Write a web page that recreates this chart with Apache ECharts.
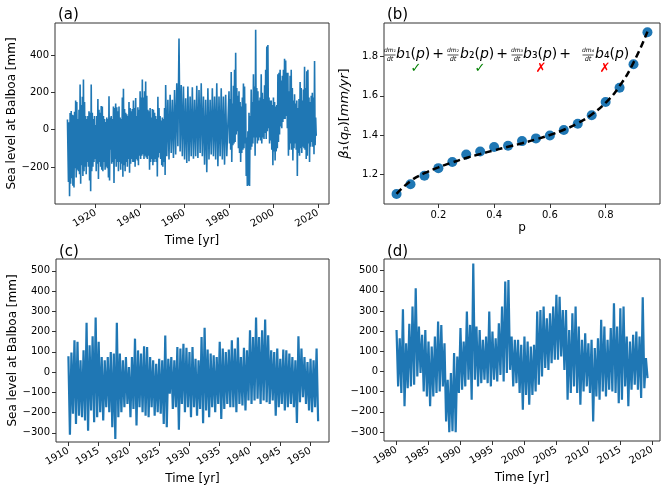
<!DOCTYPE html>
<html>
<head>
<meta charset="utf-8">
<script src="https://cdn.jsdelivr.net/npm/echarts@6/dist/echarts.min.js"></script>
<style>
  html, body { margin: 0; padding: 0; background: #fff; }
  #chart { width: 664px; height: 491px; }
</style>
</head>
<body>
<div id="chart"></div>
<script>
// 1907-1910, half-year steps: upper / lower swing
const earlyStart = 1907.5;
const earlyHigh = [60, 40, 90, 100, 80];
const earlyLow = [-280, -356, -290, -260, -300];

// 1910-1951 (panel c), half-year steps
const cStart = 1910;
const cHigh = [78, 96, 157, 149, 58, 107, 243, 132, 177, 269, 149, 74, 58, 74, 99, 91, 243, 91, 58, 74,
  25, 74, 165, 107, 91, 127, 124, 74, 58, 41, 66, 58, 180, 66, 74, 58, 124, 116, 140, 120,
  99, 124, 66, 58, 173, 219, 111, 91, 83, 74, 149, 116, 99, 111, 157, 116, 170, 74, 120, 107,
  206, 173, 269, 173, 206, 259, 182, 107, 99, 116, 66, 111, 107, 91, 74, 58, 177, 116, 74, 50,
  66, 58, 116];
const cLow = [-309, -206, -256, -215, -223, -239, -289, -190, -248, -223, -198, -239, -173, -198, -272, -330, -223, -198, -173, -157,
  -223, -182, -264, -173, -198, -215, -223, -173, -215, -198, -206, -256, -272, -107, -182, -173, -285, -157, -198, -173,
  -223, -173, -215, -182, -252, -190, -223, -173, -198, -157, -231, -182, -157, -173, -173, -198, -157, -165, -190, -140,
  -157, -140, -132, -157, -140, -149, -157, -140, -215, -173, -157, -190, -173, -157, -173, -251, -149, -124, -157, -190,
  -198, -173, -243];

// 1951-1980 (only in panel a), yearly steps
const midStart = 1951.5;
const midHigh = [240, 160, 187, 160, 213, 249, 489, 240, 231, 169, 231, 178, 228, 160, 235, 213, 249, 178, 160, 222,
  160, 222, 178, 249, 178, 222, 178, 187];
const midLow = [-142, -160, -124, -151, -133, -89, -116, -142, -160, -178, -169, -142, -156, -142, -151, -124, -142, -187, -228, -160,
  -133, -142, -160, -196, -142, -160, -187, -142];

// 1980-2019 (panel d), half-year steps
const dStart = 1980;
const dHigh = [206, 165, 309, 140, 236, 322, 413, 223, 182, 206, 149, 124, 173, 248, 231, 140, -41, -8, 91, 74,
  215, 149, 297, 231, 536, 223, 206, 157, 173, 297, 198, 165, 239, 322, 446, 454, 173, 157, 157, 132,
  173, 149, 124, 132, 297, 305, 322, 264, 289, 322, 380, 371, 305, 305, 206, 289, 322, 223, 157, 190,
  140, 157, 116, 165, 256, 223, 157, 215, 338, 223, 314, 322, 173, 149, 182, 198, 173, 368, 66];
const dLow = [-74, -107, -173, -83, -74, -66, -25, -8, -99, -124, -173, -124, -107, -99, -74, -248, -302, -297, -302, -107,
  -91, -74, -41, -140, -41, -74, -58, -41, -58, -74, -41, -50, -17, -50, -8, 8, -74, -58, -107, -190,
  -116, -165, -116, -99, -66, -25, 17, 8, 41, 58, 58, 74, 8, -140, -107, -74, -107, -165, -99, -74,
  -107, -248, -124, -140, -99, -124, -91, -99, -107, -157, -140, -74, -173, -91, -66, -91, -132, -83, -33];

// panel b
const pValues = [0.05, 0.10, 0.15, 0.20, 0.25, 0.30, 0.35, 0.40, 0.45, 0.50, 0.55, 0.60, 0.65, 0.70, 0.75, 0.80, 0.85, 0.90, 0.95];
const betaPoints = [1.099, 1.149, 1.192, 1.231, 1.262, 1.301, 1.316, 1.339, 1.345, 1.369, 1.383, 1.398, 1.426, 1.458, 1.501, 1.569, 1.641, 1.761, 1.925];
const betaFit = [1.100, 1.165, 1.205, 1.235, 1.260, 1.283, 1.303, 1.322, 1.340, 1.358, 1.378, 1.400, 1.427, 1.460, 1.505, 1.565, 1.650, 1.770, 1.928];

// tick labels
const ticksA = [1920, 1940, 1960, 1980, 2000, 2020];
const ticksC = [1910, 1915, 1920, 1925, 1930, 1935, 1940, 1945, 1950];
const ticksD = [1980, 1985, 1990, 1995, 2000, 2005, 2010, 2015, 2020];
const yTicksA = [-200, 0, 200, 400];
const yTicksCD = [-300, -200, -100, 0, 100, 200, 300, 400, 500];
const pTicks = [0.2, 0.4, 0.6, 0.8];
const betaTicks = [1.2, 1.4, 1.6, 1.8];

// high then low in each step, so the line swings like the raw record
function swing(start, step, hi, lo) {
  const pts = [];
  for (let i = 0; i < hi.length; i++) {
    pts.push([start + i * step, hi[i]]);
    pts.push([start + i * step + step / 2, lo[i]]);
  }
  return pts;
}

const seriesC = swing(cStart, 0.5, cHigh, cLow);
const seriesD = swing(dStart, 0.5, dHigh, dLow);
const seriesA = [].concat(
  [[1907.3, 55]],
  swing(earlyStart, 0.5, earlyHigh, earlyLow),
  seriesC,
  swing(midStart, 1, midHigh, midLow),
  seriesD
);

const FONT = 'DejaVu Sans';
const BLUE = '#1f77b4';

function xAx(idx, min, max, ticks, name, gap, rotate, fmt) {
  return {
    type: 'value', gridIndex: idx, min: min, max: max,
    name: name, nameLocation: 'middle', nameGap: gap,
    nameTextStyle: { fontFamily: FONT, fontSize: 12, color: '#000' },
    axisLine: { show: false, onZero: false },
    axisTick: { show: true, length: 4, customValues: ticks, lineStyle: { color: '#333' } },
    axisLabel: { customValues: ticks, rotate: rotate, margin: rotate ? 8 : 6, fontFamily: FONT, fontSize: 10, color: '#000', formatter: fmt },
    splitLine: { show: false }
  };
}
function yAx(idx, min, max, ticks, name, gap, fmt, nameStyle) {
  return {
    type: 'value', gridIndex: idx, min: min, max: max,
    name: name, nameLocation: 'middle', nameGap: gap,
    nameTextStyle: nameStyle || { fontFamily: FONT, fontSize: 12, color: '#000' },
    axisLine: { show: false, onZero: false },
    axisTick: { show: true, length: 4, customValues: ticks, lineStyle: { color: '#333' } },
    axisLabel: { customValues: ticks, margin: 6, fontFamily: FONT, fontSize: 10, color: '#000', formatter: fmt },
    splitLine: { show: false }
  };
}
const yearFmt = v => String(Math.round(v));
const intFmt = v => String(Math.round(v)).replace('-', '\u2212');

const gridStyle = { show: true, borderColor: '#333', borderWidth: 1, backgroundColor: 'transparent', containLabel: false };

// formula in panel b
const fracX = [390, 453, 517, 588];
const termX = [396, 460, 523, 595];
const plusX = [438, 502, 565];
const checkX = [416, 480, 541, 605];
const checks = ['\u2713', '\u2713', '\u2717', '\u2717'];
const checkColor = ['#008000', '#008000', '#ff0000', '#ff0000'];
const subs = ['\u2081', '\u2082', '\u2083', '\u2084'];
const graphics = [];
fracX.forEach((x, i) => {
  graphics.push({ type: 'text', x: x, y: 50.5, style: { text: 'dm' + subs[i], font: 'italic 6px DejaVu Sans', fill: '#000', textAlign: 'center', textVerticalAlign: 'middle' } });
  graphics.push({ type: 'line', shape: { x1: x - 5.5, y1: 55, x2: x + 5.5, y2: 55 }, style: { stroke: '#000', lineWidth: 0.7 } });
  graphics.push({ type: 'text', x: x, y: 59.5, style: { text: 'dt', font: 'italic 6.5px DejaVu Sans', fill: '#000', textAlign: 'center', textVerticalAlign: 'middle' } });
  graphics.push({ type: 'text', x: termX[i], y: 54, style: {
    text: '{i|b}{n|' + subs[i] + '(}{i|p}{n|)}', textAlign: 'left', textVerticalAlign: 'middle',
    rich: { i: { fontFamily: FONT, fontStyle: 'italic', fontSize: 14, fill: '#000' }, n: { fontFamily: FONT, fontSize: 14, fill: '#000' } }
  } });
  graphics.push({ type: 'text', x: checkX[i], y: 69, style: { text: checks[i], font: 'bold 13px DejaVu Sans', fill: checkColor[i], textAlign: 'center', textVerticalAlign: 'middle' } });
});
plusX.forEach(x => {
  graphics.push({ type: 'text', x: x, y: 54, style: { text: '+', font: '14px DejaVu Sans', fill: '#000', textAlign: 'center', textVerticalAlign: 'middle' } });
});

const chart = echarts.init(document.getElementById('chart'));
chart.setOption({
  animation: false,
  backgroundColor: '#fff',
  title: [
    { text: '(a)', left: 53, top: 3, textStyle: { fontFamily: FONT, fontSize: 15, fontWeight: 'normal', color: '#000' } },
    { text: '(b)', left: 382, top: 3, textStyle: { fontFamily: FONT, fontSize: 15, fontWeight: 'normal', color: '#000' } },
    { text: '(c)', left: 54, top: 240, textStyle: { fontFamily: FONT, fontSize: 15, fontWeight: 'normal', color: '#000' } },
    { text: '(d)', left: 382, top: 240, textStyle: { fontFamily: FONT, fontSize: 15, fontWeight: 'normal', color: '#000' } }
  ],
  grid: [
    Object.assign({ left: 55, top: 23, width: 274, height: 181 }, gridStyle),
    Object.assign({ left: 384, top: 23, width: 276, height: 181 }, gridStyle),
    Object.assign({ left: 56, top: 259, width: 273, height: 183 }, gridStyle),
    Object.assign({ left: 384, top: 259, width: 276, height: 182 }, gridStyle)
  ],
  xAxis: [
    xAx(0, 1901.7, 2025.0, ticksA, 'Time [yr]', 31, 30, yearFmt),
    xAx(1, 0.005, 0.995, pTicks, 'p', 18, 0, v => v.toFixed(1)),
    xAx(2, 1907.95, 1953.05, ticksC, 'Time [yr]', 31, 30, yearFmt),
    xAx(3, 1978.04, 2021.2, ticksD, 'Time [yr]', 31, 30, yearFmt)
  ],
  yAxis: [
    yAx(0, -398, 572, yTicksA, 'Sea level at Balboa [mm]', 37, intFmt),
    yAx(1, 1.048, 1.972, betaTicks, '{i|\u03b2}{n|\u2081(}{i|q\u209a}{n|)[}{i|mm/yr}{n|]}', 33, v => v.toFixed(1),
      { rich: { i: { fontFamily: FONT, fontStyle: 'italic', fontSize: 13, color: '#000' }, n: { fontFamily: FONT, fontSize: 13, color: '#000' } } }),
    yAx(2, -345, 558, yTicksCD, 'Sea level at Balboa [mm]', 37, intFmt),
    yAx(3, -345, 558, yTicksCD, '', 30, intFmt)
  ],
  graphic: graphics,
  series: [
    { type: 'line', xAxisIndex: 0, yAxisIndex: 0, data: seriesA, showSymbol: false, lineStyle: { color: BLUE, width: 1.6 }, silent: true },
    { type: 'scatter', xAxisIndex: 1, yAxisIndex: 1, data: pValues.map((p, i) => [p, betaPoints[i]]), symbolSize: 10, itemStyle: { color: BLUE, opacity: 1 }, z: 2 },
    { type: 'line', xAxisIndex: 1, yAxisIndex: 1, data: pValues.map((p, i) => [p, betaFit[i]]), smooth: true, showSymbol: false, lineStyle: { color: '#000', width: 2.5, type: [7, 4] }, z: 3 },
    { type: 'line', xAxisIndex: 2, yAxisIndex: 2, data: seriesC, showSymbol: false, lineStyle: { color: BLUE, width: 2.2 }, silent: true },
    { type: 'line', xAxisIndex: 3, yAxisIndex: 3, data: seriesD, showSymbol: false, lineStyle: { color: BLUE, width: 2.2 }, silent: true }
  ]
});
</script>
</body>
</html>
